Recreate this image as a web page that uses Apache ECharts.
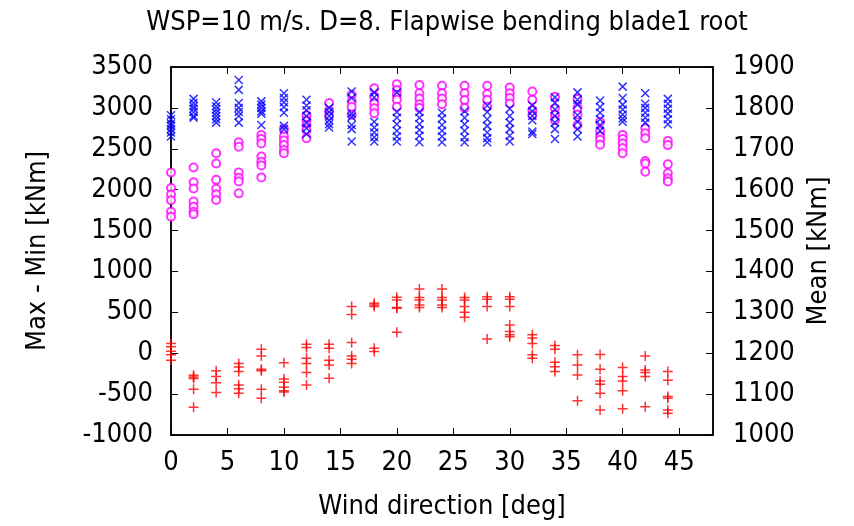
<!DOCTYPE html>
<html>
<head>
<meta charset="utf-8">
<script src="https://cdn.jsdelivr.net/npm/echarts@6/dist/echarts.min.js"></script>
<style>
html,body{margin:0;padding:0;background:#fff;}
#chart{width:854px;height:526px;}
</style>
</head>
<body>
<div id="chart"></div>
<script>
// Wind directions [deg]
var directions = [0, 2, 4, 6, 8, 10, 12, 14, 16, 18, 20, 22, 24, 26, 28, 30, 32, 34, 36, 38, 40, 42, 44];

// Max - Min [kNm] (magenta circles), one list per direction
var rangeA = [
  [2210, 2020, 1940, 1870, 1730, 1670],
  [2270, 2090, 2015, 1855, 1790, 1730, 1700],
  [2445, 2320, 2120, 2010, 1945, 1875],
  [2580, 2525, 2210, 2145, 2100, 1955],
  [2670, 2620, 2565, 2405, 2340, 2295, 2150],
  [2740, 2650, 2600, 2545, 2485, 2445],
  [2910, 2850, 2790, 2730, 2630],
  [3060, 2960, 2900],
  [3160, 3080, 3015, 2915],
  [3240, 3135, 3055, 2995, 2935],
  [3290, 3220, 3160, 3100, 3015],
  [3280, 3180, 3115, 3045, 3000],
  [3270, 3180, 3115, 3045],
  [3270, 3180, 3095, 3000],
  [3270, 3170, 3100, 3015],
  [3250, 3180, 3120, 3055],
  [3200, 3100, 2975, 2910],
  [3135, 2995, 2915, 2850],
  [3110, 3000, 2920, 2790],
  [2830, 2710, 2650, 2610, 2550],
  [2670, 2620, 2565, 2505, 2445],
  [2750, 2690, 2630, 2350, 2320, 2220],
  [2595, 2545, 2310, 2200, 2140, 2100]
];

// Max - Min [kNm] (blue crosses), one list per direction
var rangeB = [
  [2910, 2860, 2810, 2780, 2740, 2700, 2650],
  [3110, 3060, 3020, 2990, 2950, 2900, 2880],
  [3070, 3020, 2980, 2940, 2900, 2860, 2820],
  [3340, 3220, 3060, 3000, 2950, 2900, 2820],
  [3080, 3040, 3000, 2960, 2930, 2790],
  [3180, 3120, 3070, 3010, 2940, 2780, 2740],
  [3100, 3030, 2970, 2900, 2820, 2750, 2680],
  [3000, 2950, 2900, 2850, 2800, 2760],
  [3200, 3120, 2930, 2890, 2790, 2740, 2590],
  [3190, 3130, 2830, 2760, 2700, 2640, 2590],
  [3190, 2950, 2880, 2800, 2720, 2650, 2590],
  [2950, 2880, 2800, 2730, 2660, 2580],
  [2940, 2870, 2790, 2720, 2650, 2580],
  [2960, 2880, 2800, 2720, 2640, 2580],
  [3030, 2950, 2860, 2780, 2700, 2630, 2580],
  [2990, 2900, 2820, 2740, 2660, 2590],
  [3030, 2960, 2900, 2850, 2710, 2680],
  [3130, 3060, 2980, 2900, 2820, 2740, 2620],
  [3190, 3100, 3040, 2910, 2830, 2740, 2650],
  [3090, 3010, 2940, 2860, 2790, 2720],
  [3260, 3120, 3040, 2980, 2920, 2870, 2830],
  [3180, 3050, 3000, 2940, 2880, 2820],
  [3110, 3050, 2990, 2930, 2860, 2800]
];

// Mean [kNm] (red plus), one list per direction
var meanVals = [
  [1224, 1216, 1205, 1196, 1183],
  [1146, 1142, 1138, 1112, 1068],
  [1157, 1143, 1128, 1104],
  [1175, 1166, 1155, 1122, 1113, 1102],
  [1210, 1193, 1161, 1157, 1112, 1090],
  [1177, 1137, 1129, 1117, 1108, 1105],
  [1222, 1214, 1188, 1175, 1153, 1122],
  [1222, 1212, 1183, 1171, 1139],
  [1314, 1295, 1226, 1193, 1185, 1175],
  [1322, 1318, 1314, 1212, 1204],
  [1337, 1330, 1312, 1310, 1251],
  [1357, 1336, 1330, 1318, 1312],
  [1357, 1336, 1330, 1318, 1312],
  [1336, 1330, 1314, 1300, 1288],
  [1338, 1332, 1314, 1235],
  [1338, 1332, 1314, 1269, 1253, 1245, 1240],
  [1245, 1237, 1224, 1196, 1188],
  [1219, 1210, 1178, 1167, 1155],
  [1196, 1171, 1147, 1084],
  [1197, 1161, 1132, 1124, 1102, 1061],
  [1165, 1143, 1132, 1108, 1064],
  [1193, 1159, 1153, 1143, 1069],
  [1155, 1134, 1094, 1090, 1061, 1053]
];

var titleText = 'WSP=10 m/s. D=8. Flapwise bending blade1 root';
var xName = 'Wind direction [deg]';
var yLeftName = 'Max - Min [kNm]';
var yRightName = 'Mean [kNm]';

function pairs(lists) {
  var out = [];
  for (var i = 0; i < directions.length; i++) {
    for (var j = 0; j < lists[i].length; j++) out.push([directions[i], lists[i][j]]);
  }
  return out;
}

var FONT = '"Liberation Sans Narrow", "DejaVu Sans Condensed", "Liberation Sans", sans-serif';
var FS = 27;
var chart = echarts.init(document.getElementById('chart'), null, {renderer: 'canvas'});
var tickStyle = {color: '#000', width: 1};
var labelStyle = {color: '#000', fontSize: FS, fontFamily: FONT, formatter: function (v) { return String(v); }};

chart.setOption({
  animation: false,
  backgroundColor: '#fff',
  title: {
    text: titleText, left: 442, top: 4, textAlign: 'center',
    textStyle: {fontFamily: FONT, fontSize: FS, fontWeight: 'normal', color: '#000'}
  },
  grid: {left: 171, right: 141, top: 67, bottom: 91, show: true, borderColor: '#000', borderWidth: 1.5, backgroundColor: 'transparent'},
  xAxis: [{
    type: 'value', min: 0, max: 48, interval: 5, position: 'bottom',
    name: xName, nameLocation: 'middle', nameGap: 58,
    nameTextStyle: {fontFamily: FONT, fontSize: FS, color: '#000'},
    axisLine: {show: true, onZero: false, lineStyle: {color: '#000', width: 1.5}},
    axisTick: {inside: true, length: 7, lineStyle: tickStyle},
    axisLabel: Object.assign({margin: 14, showMaxLabel: false}, labelStyle),
    splitLine: {show: false}
  }, {
    type: 'value', min: 0, max: 48, interval: 5, position: 'top',
    axisLine: {show: true, onZero: false, lineStyle: {color: '#000', width: 1.5}},
    axisTick: {inside: true, length: 7, lineStyle: tickStyle},
    axisLabel: {show: false},
    splitLine: {show: false}
  }],
  yAxis: [{
    type: 'value', min: -1000, max: 3500, interval: 500, position: 'left',
    name: yLeftName, nameLocation: 'middle', nameGap: 120, nameRotate: 90,
    nameTextStyle: {fontFamily: FONT, fontSize: FS, color: '#000'},
    axisLine: {show: true, onZero: false, lineStyle: {color: '#000', width: 1.5}},
    axisTick: {inside: true, length: 7, lineStyle: tickStyle},
    axisLabel: Object.assign({margin: 18}, labelStyle),
    splitLine: {show: false}
  }, {
    type: 'value', min: 1000, max: 1900, interval: 100, position: 'right',
    name: yRightName, nameLocation: 'middle', nameGap: 88, nameRotate: 90,
    nameTextStyle: {fontFamily: FONT, fontSize: FS, color: '#000'},
    axisLine: {show: true, onZero: false, lineStyle: {color: '#000', width: 1.5}},
    axisTick: {inside: true, length: 7, lineStyle: tickStyle},
    axisLabel: Object.assign({margin: 20}, labelStyle),
    splitLine: {show: false}
  }],
  series: [{
    type: 'scatter', xAxisIndex: 0, yAxisIndex: 0, data: pairs(rangeA),
    symbol: 'emptyCircle', symbolSize: 8,
    itemStyle: {color: '#ff00ff', borderColor: '#ff00ff', borderWidth: 1.5}
  }, {
    type: 'scatter', xAxisIndex: 0, yAxisIndex: 0, data: pairs(rangeB),
    symbol: 'path://M0,0L10,10M10,0L0,10', symbolSize: 8,
    itemStyle: {color: 'none', borderColor: '#0000ff', borderWidth: 1.5}
  }, {
    type: 'scatter', xAxisIndex: 0, yAxisIndex: 1, data: pairs(meanVals),
    symbol: 'path://M5,0L5,10M0,5L10,5', symbolSize: 10,
    itemStyle: {color: 'none', borderColor: '#ff0000', borderWidth: 1.5}
  }]
});
</script>
</body>
</html>
